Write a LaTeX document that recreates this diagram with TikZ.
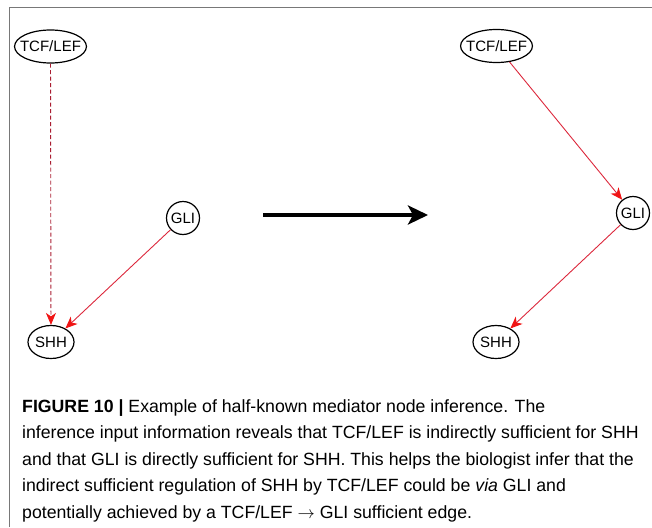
\documentclass[tikz,border=0pt]{standalone}
\usepackage{fontspec}
\setmainfont{Liberation Sans}
\usetikzlibrary{arrows.meta, shapes.geometric, positioning}

\definecolor{edgered}{RGB}{220,40,60}
\definecolor{dashred}{RGB}{170,30,50}
\definecolor{tipred}{RGB}{240,20,20}
\definecolor{framegray}{RGB}{120,120,120}

\tikzset{
  gene/.style={draw, ellipse, line width=1.2pt, inner xsep=-5pt, inner ysep=1pt, minimum height=33pt, font=\fontsize{15}{16}\selectfont},
  genecirc/.style={draw, circle, line width=1.2pt, inner sep=0pt, minimum size=33pt, font=\fontsize{15}{16}\selectfont},
  suff/.style={-{Stealth[length=12pt, width=10pt, inset=3.5pt, color=tipred]}, edgered, line width=0.9pt},
  indsuff/.style={suff, draw=dashred, dash pattern=on 4pt off 2.5pt}
}

\begin{document}
\begin{tikzpicture}[x=1pt, y=-1pt]
  \useasboundingbox (0,0) rectangle (652,527);
  % frame on top and left
  \draw[framegray, line width=1pt] (9,527) -- (9,8) -- (652,8);

  % input: indirect + direct edge
  \node[gene, minimum width=71pt] (tcfA) at (50.5,46.5) {TCF/LEF};
  \node[genecirc] (gliA) at (183,218) {GLI};
  \node[gene, minimum width=46pt] (shhA) at (51,342) {SHH};
  \draw[indsuff] (tcfA) -- (shhA);
  \draw[suff] (gliA) -- (shhA);

  % inference step
  \draw[-{Stealth[length=20pt, width=19pt, inset=5pt]}, line width=4pt] (263,215) coordinate (arrS) -- (428,215) coordinate (arrE);

  % inferred mediator
  \node[gene, minimum width=71pt] (tcfB) at (496.5,46) {TCF/LEF};
  \node[genecirc] (gliB) at (633,213) {GLI};
  \node[gene, minimum width=46pt] (shhB) at (496,342) {SHH};
  \draw[suff] (tcfB) -- (gliB);
  \draw[suff] (gliB) -- (shhB);

  % caption
  \node[anchor=north west, align=left, inner sep=0pt, font=\fontsize{17.7}{26.5}\selectfont] (caption) at (22,399)
  {\textbf{FIGURE 10 |} Example of half-known mediator node inference. The\\
   inference input information reveals that TCF/LEF is indirectly sufficient for SHH\\
   and that GLI is directly sufficient for SHH. This helps the biologist infer that the\\
   indirect sufficient regulation of SHH by TCF/LEF could be \textit{via} GLI and\\
   potentially achieved by a TCF/LEF $\rightarrow$ GLI sufficient edge.};
\end{tikzpicture}
\end{document}
